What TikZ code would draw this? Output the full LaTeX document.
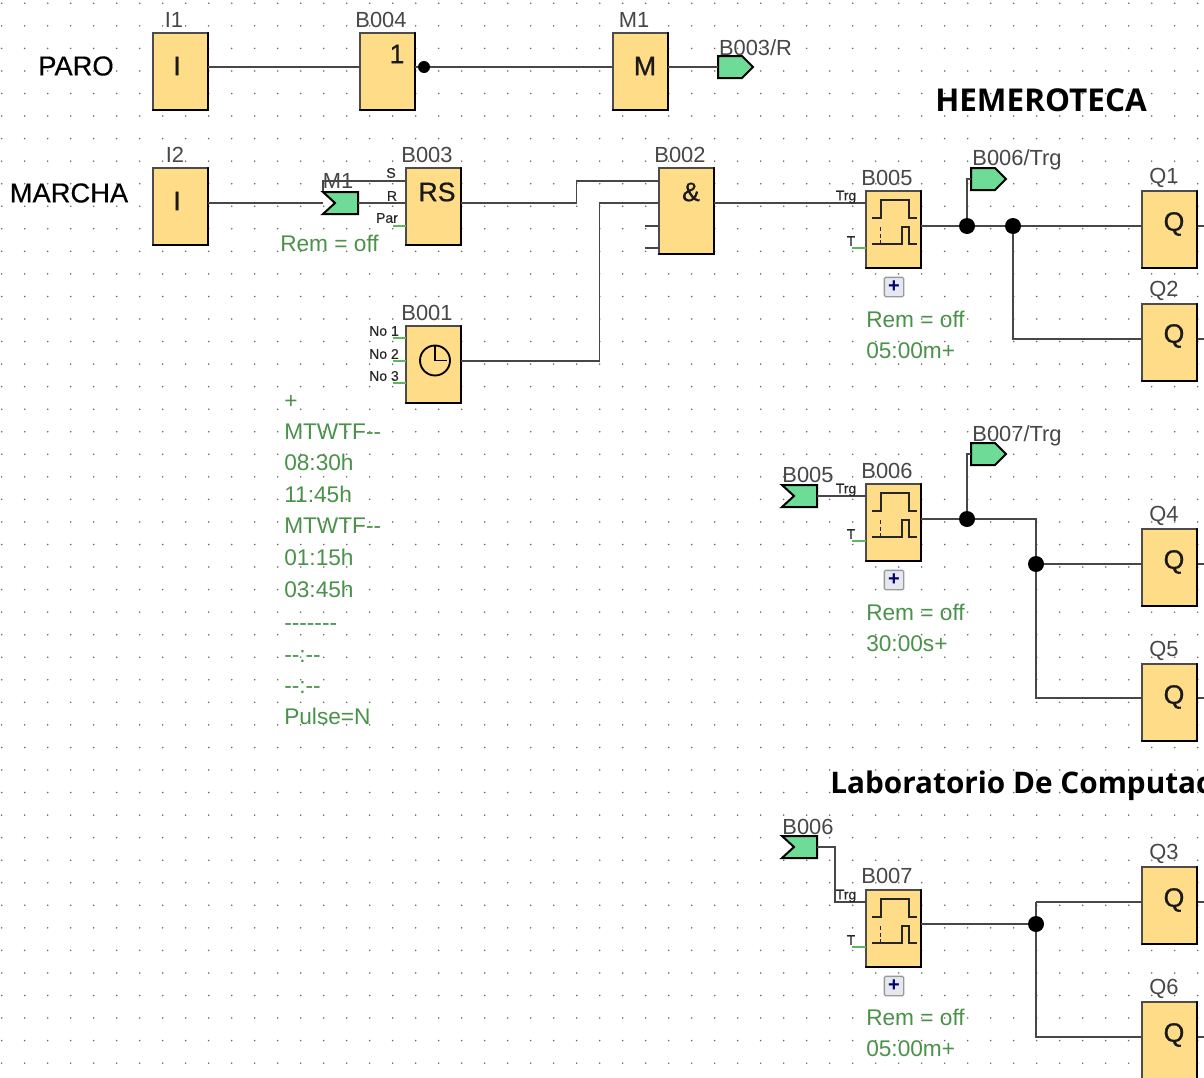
\documentclass[tikz,border=0pt]{standalone}
\usepackage{fontspec}
\setmainfont{Liberation Sans}
\newfontfamily\titlefont{Open Sans}
\newfontfamily\heavyfont[FakeBold=0.7]{Liberation Sans}
\newfontfamily\notefont[FakeBold=0.3]{Liberation Sans}
\definecolor{blockfill}{HTML}{FFDC87}
\definecolor{flagfill}{HTML}{6EDC96}
\definecolor{paramgreen}{HTML}{4A924A}
\definecolor{griddot}{HTML}{686868}
\definecolor{plusfill}{HTML}{E6E8F0}
\definecolor{stubgreen}{HTML}{5FB85F}
\newcommand{\pxfont}[1]{\fontsize{#1}{#1}\selectfont}
\tikzset{
  x=0.75pt,y=-0.75pt,
  block/.style={draw=black!70,line width=1.1pt,fill=blockfill,inner sep=0pt,outer sep=0pt,minimum width=41.25pt,minimum height=#1,anchor=north west},
  block/.default=57.75pt,
  glyph/.style={font=\heavyfont\pxfont{20},text=black!90,inner sep=0pt},
  wire/.style={draw=black!72,line width=1.15pt},
  stub/.style={draw=stubgreen,line width=1pt},
  lbl/.style={font=\pxfont{16.4},text=black!72,inner sep=0pt},
  tiny/.style={font=\notefont\pxfont{10.5},text=black!85,inner sep=0pt},
  param/.style={font=\pxfont{17},text=paramgreen,inner sep=0pt,anchor=base west},
  note/.style={font=\notefont\pxfont{20.5},text=black,inner sep=0pt},
  titl/.style={font=\titlefont\bfseries\pxfont{#1},text=black,inner sep=0pt,anchor=base west},
  flagshape/.style={draw=black,line width=1.5pt,fill=flagfill,line join=miter},
  flagnode/.style={inner sep=0pt,minimum width=26pt,minimum height=17pt},
  joint/.style={circle,fill=black,inner sep=0pt,minimum size=#1},
  joint/.default=12pt,
  plusbox/.style={draw=black!40,line width=1pt,fill=plusfill,rounded corners=1pt,inner sep=0pt,minimum size=14.5pt,font=\pxfont{15}\bfseries,text=blue!45!black},
}
\newcommand{\outflag}[3]{%
  \node[flagnode] (#1) at (#2+17.5,#3) {};
  \draw[flagshape] (#2,#3-11)--(#2+24,#3-11)--(#2+35,#3)--(#2+24,#3+11)--(#2,#3+11)--cycle;}
\newcommand{\inflag}[3]{%
  \node[flagnode] (#1) at (#2+17.5,#3) {};
  \draw[flagshape] (#2,#3-11)--(#2+35,#3-11)--(#2+35,#3+11)--(#2,#3+11)--(#2+12,#3)--cycle;}
\newcommand{\timerwave}[1]{%
  \begin{scope}[shift={(#1.north west)},draw=black!85,line width=1.2pt]
    \draw (6,27)--(15,27)--(15,9)--(43,9)--(43,27)--(51,27);
    \draw (6,53)--(36,53)--(36,36)--(43,36)--(43,53)--(51,53);
    \draw[densely dashed] (14.5,36)--(14.5,53);
  \end{scope}}
\begin{document}
\begin{tikzpicture}
\useasboundingbox (0,0) rectangle (1204,1078);
\fill[white] (0,0) rectangle (1204,1078);
\begin{scope}
\clip (0,0) rectangle (1204,1078);
% grid of dots
\foreach \i in {0,...,52}\foreach \j in {0,...,47}
  \fill[griddot] ({1.7+23*\i},{3.3+22.55*\j}) circle (0.65pt);

% named points on the wires
\coordinate (r1) at (0,67);
\coordinate (r2) at (0,203);
\coordinate (rS) at (323,181);
\coordinate (k1) at (576.5,203);
\coordinate (k1b) at (576.5,181);
\coordinate (k2) at (599.5,361);
\coordinate (k2b) at (599.5,203);
\coordinate (j1) at (967,226);
\coordinate (j2) at (1013,226);
\coordinate (k3) at (1013,339);
\coordinate (j3) at (967,519);
\coordinate (k4) at (1036,519);
\coordinate (j4) at (1036,564);
\coordinate (k5) at (1036,698);
\coordinate (k6) at (835,847);
\coordinate (k7) at (835,902);
\coordinate (j5) at (1036,924);
\coordinate (k8) at (1036,902);
\coordinate (k9) at (1036,1037);
\coordinate (edge) at (1204,0);

% output stubs of the Q blocks, running off the page
\foreach \yy in {226,339,564,698,902,1037}
  {\coordinate (t) at (1190,\yy); \draw[wire] (t)--(edge|-t);}

% blocks
\node[block] (I1) at (153,33) {};
\node[block] (B004) at (360,33) {};
\node[block] (M1) at (613,33) {};
\node[block] (I2) at (153,168) {};
\node[block] (B003) at (406,168) {};
\node[block=64.5pt] (B002) at (659,168) {};
\node[block] (B005) at (866,191) {};
\node[block] (B001) at (406,326) {};
\node[block] (B006) at (866,484) {};
\node[block] (B007) at (866,890) {};
\node[block] (Q1) at (1142,191) {};
\node[block] (Q2) at (1142,304) {};
\node[block] (Q4) at (1142,529) {};
\node[block] (Q5) at (1142,664) {};
\node[block] (Q3) at (1142,867) {};
\node[block] (Q6) at (1142,1002) {};
% heavier right and bottom edges
\foreach \b in {I1,B004,M1,I2,B003,B002,B005,B001,B006,B007,Q1,Q2,Q4,Q5,Q3,Q6}
  \draw[black,line width=1.6pt,line cap=round] (\b.north east)--(\b.south east)--(\b.south west);
% block glyphs
\node[glyph] at (177,66) {I};
\node[glyph] at (397,54) {1};
\node[glyph] at (645,66) {M};
\node[glyph] at (177,201) {I};
\node[glyph] at (437,192) {RS};
\node[glyph] at (691,192) {\&};
\node[glyph] at (1174,224) {Q};
\node[glyph] at (1174,336) {Q};
\node[glyph] at (1174,562) {Q};
\node[glyph] at (1174,697) {Q};
\node[glyph] at (1174,900) {Q};
\node[glyph] at (1174,1035) {Q};
\timerwave{B005}\timerwave{B006}\timerwave{B007}
% clock
\coordinate (clk) at (435,360.5);
\draw[line width=1.4pt,black] (clk) circle (11.25pt);
\draw[line width=1.4pt,black] (435,346)--(clk)--(447,360.5);

% flags
\outflag{fB003R}{718}{67}
\inflag{fM1}{323}{203}
\outflag{fB006T}{971}{179}
\inflag{fB005}{782}{496}
\outflag{fB007T}{971}{454}
\inflag{fB006}{782}{847}

% wires
\draw[wire] (I1.east|-r1)--(B004.west|-r1);
\draw[wire] (B004.east|-r1)--(M1.west|-r1);
\node[joint=9pt] (neg) at (424,67) {};
\draw[wire] (M1.east|-r1)--(fB003R.west|-r1);
\draw[wire] (I2.east|-r2)--(fM1.west|-r2);
\draw[wire] (fM1.east|-r2)--(B003.west|-r2);
\draw[wire] (rS|-fM1.north)--(rS)--(B003.west|-rS);
\draw[wire] (B003.east|-r2)--(k1)--(k1b)--(B002.west|-k1b);
\draw[wire] (B001.east|-k2)--(k2)--(k2b)--(B002.west|-k2b);
\coordinate (s3) at (645,226); \coordinate (s4) at (645,248);
\draw[wire] (s3)--(B002.west|-s3);
\draw[wire] (s4)--(B002.west|-s4);
\draw[wire] (B002.east|-r2)--(B005.west|-r2);
\draw[wire] (B005.east|-j1)--(Q1.west|-j1);
\draw[wire] (j1)--(j1|-fB006T)--(fB006T.west);
\draw[wire] (j2)--(k3)--(Q2.west|-k3);
\node[joint] (dj1) at (j1) {};
\node[joint] (dj2) at (j2) {};
\draw[wire] (fB005.east)--(B006.west|-fB005);
\draw[wire] (B006.east|-j3)--(k4)--(k5)--(Q5.west|-k5);
\draw[wire] (j3)--(j3|-fB007T)--(fB007T.west);
\draw[wire] (j4)--(Q4.west|-j4);
\node[joint] (dj3) at (j3) {};
\node[joint] (dj4) at (j4) {};
\draw[wire] (fB006.east)--(k6)--(k7)--(B007.west|-k7);
\draw[wire] (B007.east|-j5)--(j5);
\draw[wire] (k8)--(k9)--(Q6.west|-k9);
\draw[wire] (k8)--(Q3.west|-k8);
\node[joint] (dj5) at (j5) {};

% green parameter stubs
\foreach \nm/\yy in {B003/226,B001/338,B001/361,B001/383}
  {\coordinate (t) at (393,\yy); \draw[stub] (t)--(\nm.west|-t);}
\foreach \nm/\yy in {B005/248,B006/541,B007/947}
  {\coordinate (t) at (852,\yy); \draw[stub] (t)--(\nm.west|-t);}

% plus boxes
\node[plusbox] (p1) at (894,287) {+};
\node[plusbox] (p2) at (894,580) {+};
\node[plusbox] (p3) at (894,986) {+};

% block names
\foreach \x/\y/\t in {174/19.5/I1,381/19.5/B004,634/19.5/M1,175/154.5/I2,427/154.5/B003,680/154.5/B002,
  887/177.5/B005,1164/177.5/Q1,1164/290.5/Q2,427/312.5/B001,887/470.5/B006,
  1164/515.5/Q4,1164/650.5/Q5,808/474.5/B005,338/180.5/M1,808/826.5/B006,887/875.5/B007,1164/853.5/Q3,1164/988.5/Q6,
  755.5/47.5/B003\slash R,1017/159.5/B006\slash Trg,1017/435.5/B007\slash Trg}
  \node[lbl] at (\x,\y) {\t};

% tiny port labels
\foreach \x/\y/\t in {846/197/Trg,851/241/T,846/490/Trg,851/534/T,846/896/Trg,851/940/T,
  391/173/S,392/196/R,387/218/Par,384/331/No 1,384/354/No 2,384/376/No 3}
  \node[tiny] at (\x,\y) {\t};

% parameters
\foreach \y/\t in {408.5/+,439.5/MTWTF-{}-,470.5/08:30h,502.5/11:45h,533.5/MTWTF-{}-,565.5/01:15h,597.5/03:45h,
  630.5/-{}-{}-{}-{}-{}-{}-,662.5/-{}-:-{}-,693.5/-{}-:-{}-,724.5/Pulse=N}
  \node[param] at (284,\y) {\t};
\node[param] at (280,251) {Rem = off};
\foreach \y/\t in {327/Rem = off,358.5/05:00m+,620/Rem = off,651.5/30:00s+,1025.5/Rem = off,1056.5/05:00m+}
  \node[param] at (866,\y) {\t};

% free notes
\node[note] at (76,66) {PARO};
\node[note] at (69,193) {MARCHA};
\node[titl=23.6] at (935,111) {HEMEROTECA};
\node[titl=22.3] at (830,793) {Laboratorio De Computac};
\end{scope}
\end{tikzpicture}
\end{document}
